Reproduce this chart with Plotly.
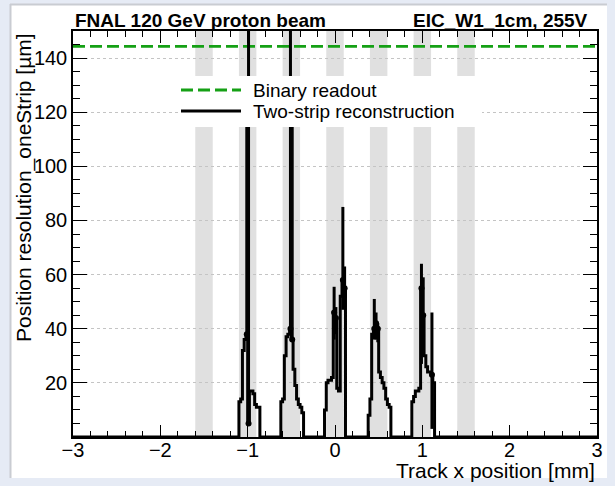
"""
Position resolution vs track x position, EIC_W1_1cm at 255 V.
ROOT-like look: inside ticks on all four sides, dotted horizontal grid,
grey bands for the metal strips.
"""
import plotly.graph_objects as go

FONT = "Liberation Sans, Arial, Helvetica, sans-serif"
PAPER_BG = "#e6ebf5"
EDGE_COLOR = "#c9ccd2"
BAND_COLOR = "#e0e0e0"
GREEN = "#15a015"
GRID_COLOR = "#c4c4c4"

W, H = 615, 486
# plot frame in pixels
PLOT_L, PLOT_R, PLOT_T, PLOT_B = 73, 597, 31, 437

X_RANGE = [-3.0, 3.0]
Y_RANGE = [0.0, 150.0]
BIN_WIDTH = 0.02

# metal strips
STRIP_CENTERS = [-1.5, -1.0, -0.5, 0.0, 0.5, 1.0, 1.5]
STRIP_HALF_WIDTH = 0.1

# binary readout resolution [um]
BINARY_RES = 144.3

# two-strip reconstruction: left edge of first bin of each peak + bin contents
PEAK_STARTS = [-1.10, -0.62, -0.12, 0.38, 0.88]
PEAK1 = [13, 14, 32, 36, 38, 5, 17, 17, 16, 12, 11, 11]
PEAK2 = [13, 14, 30, 37, 38, 40, 36, 25, 19, 14, 12, 11, 9]
PEAK3 = [10, 20, 21, 21, 22, 46, 44, 18, 17, 52, 58, 55]
PEAK4 = [8, 14, 38, 40, 42, 40, 24, 22, 20, 18, 14, 12, 11]
PEAK5 = [13, 15, 17, 17, 18, 55, 45, 30, 26, 24, 24, 23, 20]

# bins with visible error bars (left bin edge), upper / lower errors
ERR_BINS = [-1.02, -1.00, -0.52, -0.50, -0.02, 0.00, 0.08, 0.10, 0.44, 0.46, 0.48, 0.98, 1.00, 1.10]
ERR_UP = [85, 200, 200, 85, 9.5, 4, 27, 8, 11, 4, 2, 9, 14, 23]
ERR_DOWN = [0, 0, 0, 0, 10, 6, 11, 7, 4, 6, 5, 28, 15, 20]


def px_x(px):
    return (px - PLOT_L) / (PLOT_R - PLOT_L)


def px_y(py):
    return (PLOT_B - py) / (PLOT_B - PLOT_T)


def data_x(px):
    return X_RANGE[0] + (px - PLOT_L) / (PLOT_R - PLOT_L) * (X_RANGE[1] - X_RANGE[0])


def data_y(py):
    return Y_RANGE[0] + (PLOT_B - py) / (PLOT_B - PLOT_T) * (Y_RANGE[1] - Y_RANGE[0])


# fill the histogram
n_bins = round((X_RANGE[1] - X_RANGE[0]) / BIN_WIDTH)
edges = [X_RANGE[0] + i * BIN_WIDTH for i in range(n_bins + 1)]
contents = [0.0] * n_bins
for start, vals in zip(PEAK_STARTS, [PEAK1, PEAK2, PEAK3, PEAK4, PEAK5]):
    i0 = round((start - X_RANGE[0]) / BIN_WIDTH)
    for k, v in enumerate(vals):
        contents[i0 + k] = v

err_idx = [round((b - X_RANGE[0]) / BIN_WIDTH) for b in ERR_BINS]
err_x = [edges[i] + BIN_WIDTH / 2 for i in err_idx]
err_y = [contents[i] for i in err_idx]

fig = go.Figure()

fig.add_trace(go.Scatter(
    x=X_RANGE, y=[BINARY_RES, BINARY_RES], mode="lines", name="Binary readout",
    line=dict(color=GREEN, width=2.8, dash="12px,5px"),
))
fig.add_trace(go.Scatter(
    x=edges, y=contents + [contents[-1]], mode="lines", name="Two-strip reconstruction",
    line=dict(color="black", width=3, shape="hv"),
))
fig.add_trace(go.Scatter(
    x=err_x, y=err_y, mode="markers", marker=dict(size=0, color="black"),
    error_y=dict(type="data", symmetric=False, array=ERR_UP, arrayminus=ERR_DOWN,
                 color="black", thickness=3, width=0),
    showlegend=False, hoverinfo="skip",
))

shapes = [
    # white canvas inside the light border, darker bevel on left/top
    dict(type="rect", xref="paper", yref="paper", layer="below",
         x0=px_x(11), x1=px_x(607), y0=px_y(478), y1=px_y(5),
         fillcolor="white", line=dict(width=0)),
    dict(type="line", xref="paper", yref="paper", layer="below",
         x0=px_x(10.5), x1=px_x(10.5), y0=px_y(478), y1=px_y(4),
         line=dict(color=EDGE_COLOR, width=2)),
    dict(type="line", xref="paper", yref="paper", layer="below",
         x0=px_x(10), x1=px_x(607), y0=px_y(4.5), y1=px_y(4.5),
         line=dict(color=EDGE_COLOR, width=2)),
]
for c in STRIP_CENTERS:
    shapes.append(dict(type="rect", xref="x", yref="y", layer="below",
                       x0=c - STRIP_HALF_WIDTH, x1=c + STRIP_HALF_WIDTH,
                       y0=Y_RANGE[0], y1=Y_RANGE[1],
                       fillcolor=BAND_COLOR, line=dict(width=0)))

# legend box (ROOT TLegend look: white fill, no border, long line samples)
shapes += [
    dict(type="rect", xref="x", yref="y", layer="above",
         x0=data_x(178), x1=data_x(482), y0=data_y(127), y1=data_y(76),
         fillcolor="white", line=dict(width=0)),
    dict(type="line", xref="x", yref="y", layer="above",
         x0=data_x(181), x1=data_x(241), y0=data_y(90), y1=data_y(90),
         line=dict(color=GREEN, width=2.8, dash="12px,5px")),
    dict(type="line", xref="x", yref="y", layer="above",
         x0=data_x(181), x1=data_x(241), y0=data_y(111), y1=data_y(111),
         line=dict(color="black", width=3)),
]

annotations = [
    dict(text="Binary readout", xref="x", yref="y", x=data_x(251), y=data_y(90),
         xanchor="left", yanchor="middle", showarrow=False, font=dict(size=19)),
    dict(text="Two-strip reconstruction", xref="x", yref="y", x=data_x(251), y=data_y(111),
         xanchor="left", yanchor="middle", showarrow=False, font=dict(size=19)),
    dict(text="<b>FNAL 120 GeV proton beam</b>", xref="paper", yref="paper",
         x=px_x(73), y=px_y(20), xanchor="left", yanchor="middle", showarrow=False,
         font=dict(size=19)),
    dict(text="<b>EIC_W1_1cm, 255V</b>", xref="paper", yref="paper",
         x=px_x(590), y=px_y(20), xanchor="right", yanchor="middle", showarrow=False,
         font=dict(size=19)),
    dict(text="Track x position [mm]", xref="paper", yref="paper",
         x=1.0, y=px_y(470), xanchor="right", yanchor="middle", showarrow=False,
         font=dict(size=21)),
    dict(text="Position resolution_oneStrip [µm]", xref="paper", yref="paper",
         x=px_x(24), y=px_y(188), xanchor="center", yanchor="middle", textangle=-90,
         showarrow=False, font=dict(size=21)),
]

fig.update_layout(
    width=W, height=H,
    margin=dict(l=PLOT_L, r=W - PLOT_R, t=PLOT_T, b=H - PLOT_B, pad=0),
    paper_bgcolor=PAPER_BG, plot_bgcolor="white",
    font=dict(family=FONT, color="black"),
    showlegend=False,
    shapes=shapes, annotations=annotations,
)
fig.update_xaxes(
    range=X_RANGE, tickmode="linear", tick0=-3, dtick=1,
    ticks="inside", ticklen=12, tickwidth=1, tickcolor="black",
    minor=dict(ticks="inside", ticklen=6, tick0=-3, dtick=0.2, tickcolor="black", showgrid=False),
    showline=True, linecolor="black", linewidth=1.5, mirror="ticks",
    showgrid=False, zeroline=False, tickfont=dict(size=20), ticklabelstandoff=-6,
)
fig.update_yaxes(
    range=Y_RANGE, tickmode="array", tickvals=[20, 40, 60, 80, 100, 120, 140],
    ticks="inside", ticklen=14, tickwidth=1, tickcolor="black",
    minor=dict(ticks="inside", ticklen=7, tickmode="linear", tick0=0, dtick=5,
               tickcolor="black", showgrid=False),
    showline=True, linecolor="black", linewidth=1.5, mirror="ticks",
    showgrid=True, gridcolor=GRID_COLOR, griddash="dot", gridwidth=1,
    zeroline=False, tickfont=dict(size=20),
)

# the page has a default 8px body margin; drop it so the figure sits at the window origin
fig.write_html(
    "out.html",
    config={"displayModeBar": False},
    post_script=f"document.body.style.margin='0';document.body.style.background='{PAPER_BG}';",
)
